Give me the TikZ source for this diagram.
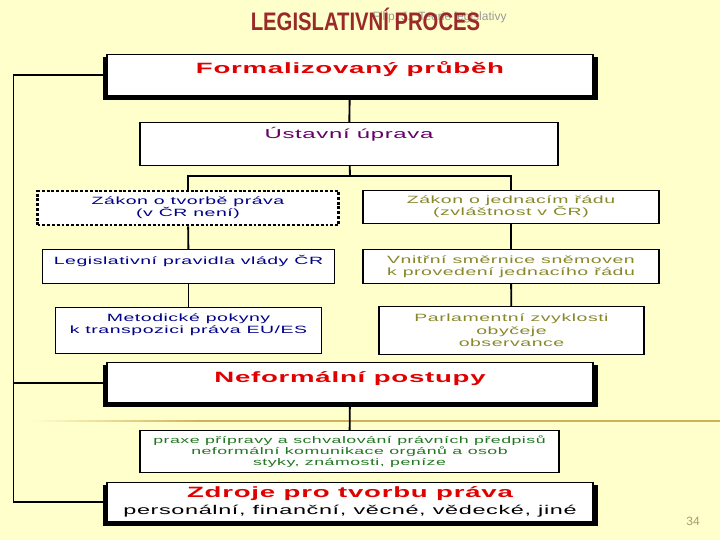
\documentclass[tikz,border=0pt]{standalone}
\usepackage{fontspec}
\setmainfont{Liberation Sans}
\newfontfamily\titlefont[FakeStretch=0.8]{Liberation Sans}
\newfontfamily\widefont[FakeStretch=1.85,LetterSpace=5]{Liberation Sans}
\usepackage{tikz}
\usetikzlibrary{positioning,backgrounds,calc}
\definecolor{pagebg}{HTML}{FFFFCC}
\definecolor{titlec}{HTML}{9A2A2A}
\definecolor{headc}{HTML}{E00000}
\definecolor{ustavc}{HTML}{660066}
\definecolor{govc}{HTML}{000088}
\definecolor{parlc}{HTML}{88882A}
\definecolor{praxec}{HTML}{227722}
\definecolor{rulec}{HTML}{CDB25A}
\definecolor{numc}{HTML}{A59D6A}
\newdimen\px \px=0.75pt
\tikzset{
  box/.style={draw, fill=white, line width=0.9pt, align=center, inner sep=0pt, anchor=north},
  headbox/.style={box, text=headc, font=\widefont\bfseries\fontsize{11.2}{13}\selectfont},
  ustbox/.style={box, text=ustavc, font=\widefont\fontsize{9.7}{12}\selectfont},
  govbox/.style={box, text=govc, font=\widefont\fontsize{7.9}{9}\selectfont},
  parlbox/.style={box, text=parlc, font=\widefont\fontsize{7.9}{9}\selectfont},
  praxbox/.style={box, text=praxec, font=\widefont\fontsize{7.2}{8.25}\selectfont},
  dotbox/.style={dash pattern=on 2.2pt off 1.4pt, line width=1.8pt},
  conn/.style={draw, line width=1.4pt},
}

\begin{document}
\begin{tikzpicture}[x=0.75pt, y=-0.75pt]
  \path[use as bounding box] (0,0) rectangle (720,540);
  % title
  \node[anchor=base west, text=black!40, font=\fontsize{9}{10}\selectfont] (author) at (368,20.5) {Filip, J.: Teorie legislativy};
  \node[anchor=base, text=titlec, font=\titlefont\bfseries\fontsize{19}{21}\selectfont] (title) at (365.5,30.5) {LEGISLATIVNÍ PROCES};

  % formal part
  \node[headbox, minimum width=486\px, text height=19\px, text depth=22\px] (formal) at (350,54) {Formalizovaný průběh};
  \node[ustbox, minimum width=418\px, text height=15.5\px, text depth=27.5\px] (ustav) at (349,122) {Ústavní úprava};
  \coordinate (split) at (350,176);

  \node[govbox, dotbox, minimum width=301\px, minimum height=34\px] (tvorba) at (188,190) {Zákon o tvorbě práva\\(v ČR není)};
  \node[govbox, minimum width=292\px, text height=15\px, text depth=19\px] (pravidla) at (188.5,249) {Legislativní pravidla vlády ČR};
  \node[govbox, minimum width=266\px, text height=26\px, text depth=20\px] (metod) at (188.5,307) {Metodické pokyny\\k transpozici práva EU/ES};

  \node[parlbox, minimum width=296\px, minimum height=33\px] (jedn) at (511,190) {Zákon o jednacím řádu\\(zvláštnost v ČR)};
  \node[parlbox, minimum width=296\px, minimum height=34\px] (smern) at (511,249) {Vnitřní směrnice sněmoven\\k provedení jednacího řádu};
  \node[parlbox, minimum width=265\px, minimum height=48\px, font=\widefont\fontsize{7.9}{9.4}\selectfont] (zvykl) at (511.5,306) {Parlamentní zvyklosti\\obyčeje\\observance};

  % informal part
  \node[headbox, minimum width=486\px, text height=19.5\px, text depth=20.5\px] (neform) at (350,362) {Neformální postupy};
  \node[praxbox, minimum width=419\px, minimum height=42\px] (praxe) at (349.5,430) {praxe přípravy a schvalování právních předpisů\\neformální komunikace orgánů a osob\\styky, známosti, peníze};
  \node[box, minimum width=486\px, minimum height=39\px, font=\widefont\fontsize{9.5}{12.75}\selectfont] (zdroje) at (350,482) {{\bfseries\fontsize{11.2}{12.75}\selectfont\color{headc}Zdroje pro tvorbu práva}\\personální, finanční, věcné, vědecké, jiné};

  \node[text=numc, font=\fontsize{9}{10}\selectfont] (pnum) at (693,521) {34};
  \coordinate (rail) at (13.5,0);

  \begin{scope}[on background layer]
    \fill[pagebg] (0,0) rectangle (720,540);
    \shade[left color=pagebg, right color=rulec] (30,420.3) rectangle (200,421.9);
    \fill[rulec] (200,420.3) rectangle (720,421.9);
    \foreach \n in {formal,neform,zdroje}
      \fill ([xshift=-3\px,yshift=-3\px]\n.north west) rectangle ([xshift=4\px,yshift=-4\px]\n.south east);
  \end{scope}

  % connectors
  \draw[conn] (formal) -- (ustav);
  \draw[conn] (ustav) -- (split);
  \draw[conn] (tvorba.north) |- (split) -| (jedn.north);
  \draw[conn] (tvorba) -- (pravidla);
  \draw[conn] (pravidla) -- (metod);
  \draw[conn] (jedn) -- (smern);
  \draw[conn] (smern) -- (zvykl);
  \draw[conn] (neform) -- (praxe);
  \draw[conn] (formal.west) -| (rail |- zdroje.west) -- (zdroje.west);
  \draw[conn] (neform.west) -- (rail |- neform.west);
\end{tikzpicture}
\end{document}
